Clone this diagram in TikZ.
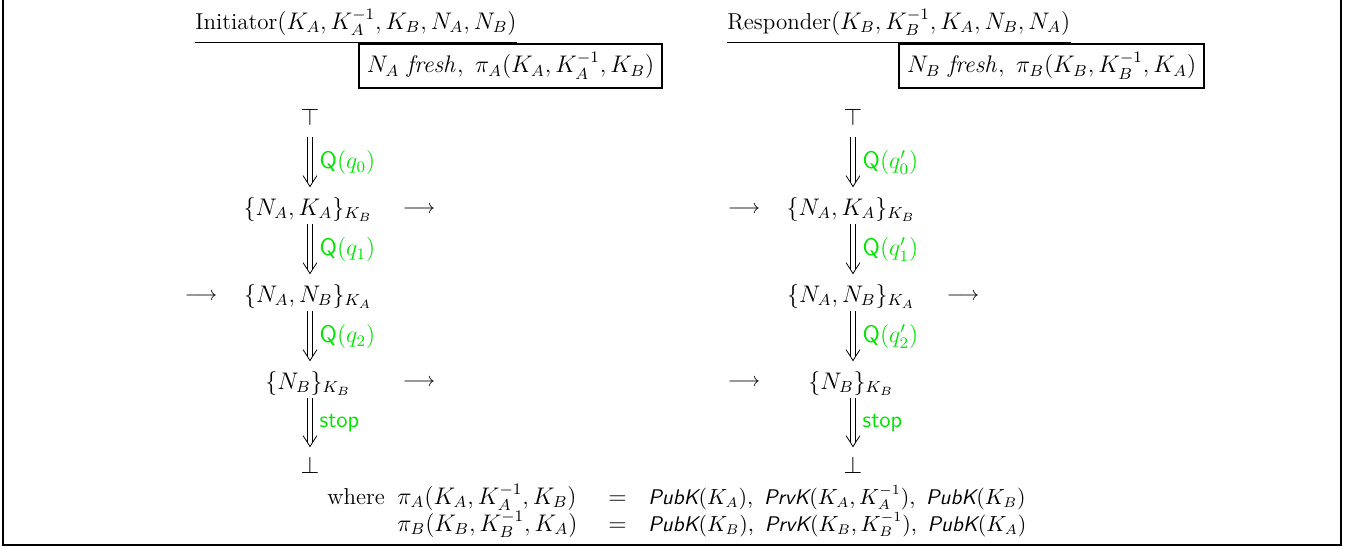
\documentclass[tikz,border=0pt]{standalone}
\usepackage{amsmath}
\definecolor{qgreen}{RGB}{0,228,0}
\newcommand{\sfit}[1]{\textsf{\itshape #1}}
% double arrow from #1 down to #2, labelled #3
\newcommand{\dblarrow}[3]{%
    \draw ([xshift=-1.15pt]#1) -- ([xshift=-1.15pt,yshift=2.2pt]#2);
    \draw ([xshift=1.15pt]#1) -- ([xshift=1.15pt,yshift=2.2pt]#2) node[lbl] {#3};
    \draw ([xshift=-3.5pt,yshift=5.5pt]#2) .. controls ([xshift=-1.2pt,yshift=2pt]#2) .. (#2)
        .. controls ([xshift=1.2pt,yshift=2pt]#2) .. ([xshift=3.5pt,yshift=5.5pt]#2);
}
\begin{document}
\begin{tikzpicture}[x=0.5pt, y=-0.5pt, font=\fontsize{11.5}{13.8}\selectfont,
        state/.style={anchor=base, inner sep=1pt, text height=9pt, text depth=3.5pt},
        lbl/.style={right, inner sep=1pt, xshift=2.5pt, text=qgreen, pos=0.56},
        msg/.style={anchor=base, inner sep=0pt, font=\fontsize{10}{12}\selectfont},
        txt/.style={anchor=base west, inner sep=0pt}]
        \useasboundingbox (0,0) rectangle (1351,548);
        % frame
        \draw[line width=1pt] (3,0) -- (3,545) -- (1341,545) -- (1341,0);
        % headers
        \node[txt] (hdrA) at (195,29) {Initiator$(K_A, K_A^{-1}, K_B, N_A, N_B)$};
        \draw ([yshift=-6.5pt]hdrA.base west) -- ([yshift=-6.5pt]hdrA.base east);
        \node[draw, thick, anchor=north east, minimum height=22pt, inner xsep=4pt] (boxA) at (663,43)
            {$N_A\ \mathit{fresh},\ \pi_A(K_A, K_A^{-1}, K_B)$};
        \node[txt] (hdrB) at (727,29) {Responder$(K_B, K_B^{-1}, K_A, N_B, N_A)$};
        \draw ([yshift=-6.5pt]hdrB.base west) -- ([yshift=-6.5pt]hdrB.base east);
        \node[draw, thick, anchor=north east, minimum height=22pt, inner xsep=4pt] (boxB) at (1205,43)
            {$N_B\ \mathit{fresh},\ \pi_B(K_B, K_B^{-1}, K_A)$};
        % initiator states
        \node[state] (topA) at (310,125) {$\top$};
        \node[state] (s1A) at (308,215) {$\{N_A, K_A\}_{K_B}$};
        \node[state] (s2A) at (308,302) {$\{N_A, N_B\}_{K_A}$};
        \node[state] (s3A) at (308,389) {$\{N_B\}_{K_B}$};
        \node[state] (botA) at (310,473) {$\bot$};
        % responder states
        \node[state] (topB) at (853,125) {$\top$};
        \node[state] (s1B) at (851,215) {$\{N_A, K_A\}_{K_B}$};
        \node[state] (s2B) at (851,302) {$\{N_A, N_B\}_{K_A}$};
        \node[state] (s3B) at (851,389) {$\{N_B\}_{K_B}$};
        \node[state] (botB) at (853,473) {$\bot$};
        % arrow ends
        \foreach \s in {A, B} {
            \path (top\s.south) ++(0,3) coordinate (f0\s);
            \coordinate (f1\s) at (top\s |- s1\s.south);
            \coordinate (f2\s) at (top\s |- s2\s.south);
            \coordinate (f3\s) at (top\s |- s3\s.south);
            \path (top\s |- s1\s.north) ++(0,-8) coordinate (t1\s);
            \path (top\s |- s2\s.north) ++(0,-8) coordinate (t2\s);
            \path (top\s |- s3\s.north) ++(0,-8) coordinate (t3\s);
            \path (bot\s.north) ++(0,-6) coordinate (t4\s);
        }
        \dblarrow{f0A}{t1A}{$\mathsf{Q}(q_0)$}
        \dblarrow{f1A}{t2A}{$\mathsf{Q}(q_1)$}
        \dblarrow{f2A}{t3A}{$\mathsf{Q}(q_2)$}
        \dblarrow{f3A}{t4A}{\textsf{stop}}
        \dblarrow{f0B}{t1B}{$\mathsf{Q}(q'_0)$}
        \dblarrow{f1B}{t2B}{$\mathsf{Q}(q'_1)$}
        \dblarrow{f2B}{t3B}{$\mathsf{Q}(q'_2)$}
        \dblarrow{f3B}{t4B}{\textsf{stop}}
        % messages
        \node[msg] (outA1) at (419,213) {$\longrightarrow$};
        \node[msg] (inA2) at (201,300) {$\longrightarrow$};
        \node[msg] (outA3) at (419,386) {$\longrightarrow$};
        \node[msg] (inB1) at (744,213) {$\longrightarrow$};
        \node[msg] (outB2) at (963,300) {$\longrightarrow$};
        \node[msg] (inB3) at (744,386) {$\longrightarrow$};
        % where
        \node[txt] (where) at (327,504) {where};
        \node[txt] (piA) at (397,504) {$\pi_A(K_A, K_A^{-1}, K_B)$};
        \node[txt] (eqA) at (608,504) {$=$};
        \node[txt, font=\fontsize{10.6}{12.7}\selectfont] (defA) at (648,504)
            {$\sfit{PubK}(K_A),\ \sfit{PrvK}(K_A, K_A^{-1}),\ \sfit{PubK}(K_B)$};
        \node[txt] (piB) at (397,531) {$\pi_B(K_B, K_B^{-1}, K_A)$};
        \node[txt] (eqB) at (608,531) {$=$};
        \node[txt, font=\fontsize{10.6}{12.7}\selectfont] (defB) at (648,531)
            {$\sfit{PubK}(K_B),\ \sfit{PrvK}(K_B, K_B^{-1}),\ \sfit{PubK}(K_A)$};
    \end{tikzpicture}
\end{document}
